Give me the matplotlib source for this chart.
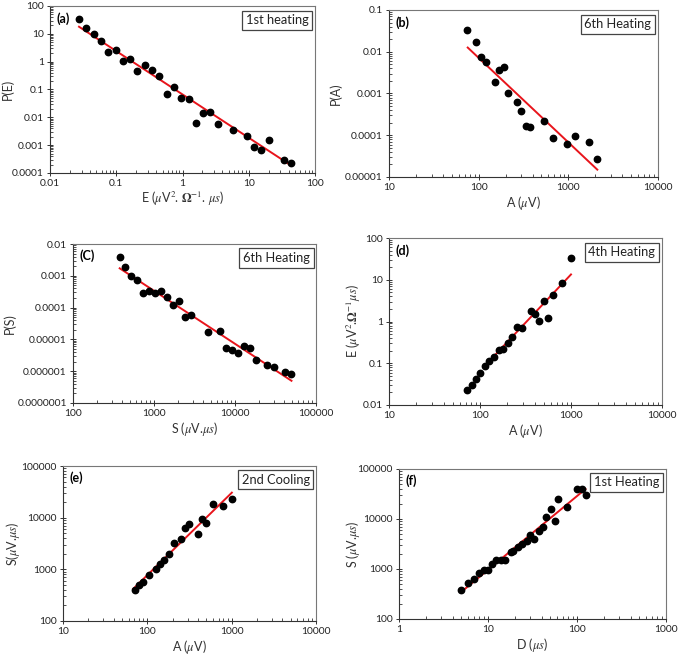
import matplotlib
matplotlib.use("Agg")
import matplotlib.pyplot as plt
from matplotlib.ticker import LogLocator, FuncFormatter, NullFormatter

plt.rcParams['font.family'] = ['Lato', 'DejaVu Sans']
plt.rcParams['mathtext.fontset'] = 'stix'

# ---------------- data ----------------
# (a) P(E) vs E, 1st heating
a_x = [0.0274, 0.035, 0.046, 0.058, 0.076, 0.098, 0.125, 0.16, 0.208, 0.268, 0.347,
       0.447, 0.577, 0.736, 0.955, 1.24, 1.62, 2.06, 2.63, 3.43, 5.7, 9.4, 12.1,
       15.5, 20.2, 33.6, 43.5]
a_y = [34, 16.6, 9.8, 5.6, 2.2, 2.7, 1.02, 1.23, 0.47, 0.79, 0.5, 0.31, 0.068, 0.12,
       0.05, 0.047, 0.0063, 0.0148, 0.0158, 0.0058, 0.0036, 0.0021, 0.00083,
       0.00065, 0.0015, 0.0003, 0.00023]
a_fit_x = [0.0274, 43.5]
a_fit_y = [18, 0.000187]

# (b) P(A) vs A, 6th heating
b_x = [74.8, 94, 107, 122, 151, 169, 190, 212, 268, 299, 337, 377, 536, 675, 958,
       1197, 1700, 2105]
b_y = [0.034, 0.0172, 0.0074, 0.0057, 0.0019, 0.0036, 0.0042, 0.00105, 0.00063,
       0.00038, 0.00017, 0.000154, 0.000214, 0.000085, 0.000063, 0.000096,
       0.000069, 0.000027]
b_fit_x = [75.5, 2105]
b_fit_y = [0.0126, 0.000015]

# (c) P(S) vs S, 6th heating
c_x = [377, 443, 526, 618, 740, 879, 1032, 1224, 1452, 1706, 2023, 2400, 2845, 4706,
       6500, 7785, 9230, 10960, 12880, 15280, 17950, 25150, 29900, 41700, 49500]
c_y = [0.0039, 0.00185, 0.00097, 0.00074, 0.00028, 0.00033, 0.00028, 0.00034,
       0.00021, 0.000122, 0.000167, 0.000051, 0.000058, 0.0000173, 0.000019,
       0.0000053, 0.0000045, 0.0000038, 0.0000063, 0.0000055, 0.0000023,
       0.0000016, 0.0000014, 0.00000096, 0.00000081]
c_fit_x = [377, 49800]
c_fit_y = [0.00172, 0.0000005]

# (d) E vs A, 4th heating
d_x = [71.7, 81.5, 90.8, 101, 114, 127, 142, 160, 180, 201, 227, 255, 287, 361, 403,
       450, 506, 565, 641, 805, 1000]
d_y = [0.0233, 0.0308, 0.042, 0.0586, 0.086, 0.112, 0.145, 0.205, 0.22, 0.313, 0.43,
       0.73, 0.69, 1.77, 1.5, 1.02, 3.02, 1.18, 4.2, 8.5, 33.7]
d_fit_x = [111, 1000]
d_fit_y = [0.083, 13.4]

# (e) S vs A, 2nd cooling
e_x = [71, 79.8, 89.9, 106, 126, 143, 158, 180, 208, 254, 283, 316, 401, 443, 503,
       604, 795, 1005]
e_y = [398, 490, 569, 777, 1014, 1250, 1515, 2010, 3187, 3866, 6400, 7540, 4753,
       9290, 8000, 18400, 16600, 23300]
e_fit_x = [67.8, 1005]
e_fit_y = [416, 30500]

# (f) S vs D, 1st heating
f_x = [4.98, 5.92, 6.98, 7.94, 9.04, 10.1, 11.2, 12.3, 13.9, 15.7, 18.0, 19.3, 21.6,
       24, 27.5, 29.8, 32.7, 37.2, 41.7, 45.4, 50.8, 56.4, 61.5, 77.6, 98.9, 112.5,
       124.7]
f_y = [373, 514, 618, 815, 964, 964, 1270, 1504, 1504, 1527, 2140, 2310, 2775, 3136,
       3600, 4745, 4070, 5800, 7070, 10850, 15660, 9160, 25600, 17700, 39300, 39300,
       29800]
f_fit_x = [4.98, 124.7]
f_fit_y = [345, 39800]

W, H = 679, 656


def plain(v, pos):
    if v >= 1:
        return f"{int(round(v))}"
    digits = len(f"{v:.10f}".rstrip('0').split('.')[1])
    return f"{v:.{digits}f}"


def panel(box, ylab_px, x, y, fx, fy, xlim, ylim, xlabel, ylabel, tag, note):
    left, right, top, bottom = box
    ax = fig.add_axes([left / W, 1 - bottom / H, (right - left) / W, (bottom - top) / H])
    ax.set_xscale('log')
    ax.set_yscale('log')
    ax.plot(fx, fy, color='#e8141b', lw=1.4, zorder=2)
    ax.plot(x, y, 'o', color='black', ms=4.6, zorder=3)
    ax.set_xlim(*xlim)
    ax.set_ylim(*ylim)
    for a in (ax.xaxis, ax.yaxis):
        a.set_major_locator(LogLocator(base=10, numticks=20))
        a.set_minor_locator(LogLocator(base=10, subs=range(2, 10), numticks=20))
        a.set_major_formatter(FuncFormatter(plain))
        a.set_minor_formatter(NullFormatter())
    ax.tick_params(which='major', direction='inout', length=4, width=0.7,
                   labelsize=7.4, color='#333333', labelcolor='#222222', pad=2.5)
    ax.tick_params(which='minor', direction='in', length=2, width=0.6, color='#333333')
    for s in ('left', 'bottom'):
        ax.spines[s].set_color('#333333')
        ax.spines[s].set_linewidth(0.8)
    for s in ('top', 'right'):
        ax.spines[s].set_color('#777777')
        ax.spines[s].set_linewidth(0.8)
    ax.set_xlabel(xlabel, fontsize=9, color='#333333', labelpad=1)
    ax.set_ylabel(ylabel, fontsize=9, color='#333333', va='center')
    ax.yaxis.set_label_coords((ylab_px - left) / (right - left), 0.5)
    ax.text(0.025, 0.965, tag, transform=ax.transAxes, ha='left', va='top',
            fontsize=9, fontweight='bold')
    ax.text(0.975, 0.95, note, transform=ax.transAxes, ha='right', va='top',
            fontsize=9.3, color='#222222',
            bbox=dict(boxstyle='square,pad=0.28', facecolor='white',
                      edgecolor='#444444', lw=0.9))
    return ax


fig = plt.figure(figsize=(W / 100, H / 100), dpi=100)

panel((50, 315, 6, 173), 8, a_x, a_y, a_fit_x, a_fit_y, (0.01, 100), (0.0001, 100),
      r'E ($\mu$V$^2$. $\mathbf{\Omega}^{-1}$. $\mu s$)', 'P(E)', '(a)', '1st heating')
panel((389, 658, 10, 177), 336, b_x, b_y, b_fit_x, b_fit_y, (10, 10000), (0.00001, 0.1),
      r'A ($\mu$V)', 'P(A)', '(b)', '6th Heating')
panel((73, 316, 244, 403), 10, c_x, c_y, c_fit_x, c_fit_y, (100, 100000), (1e-7, 0.01),
      r'S ($\mu$V.$\mu s$)', 'P(S)', '(C)', '6th Heating')
panel((389, 662, 238, 405), 354, d_x, d_y, d_fit_x, d_fit_y, (10, 10000), (0.01, 100),
      r'A ($\mu$V)', r'E ($\mu$V$^2$.$\mathbf{\Omega}^{-1}$$\mu s$)', '(d)', '4th Heating')
panel((63, 316, 466, 621), 13, e_x, e_y, e_fit_x, e_fit_y, (10, 10000), (100, 100000),
      r'A ($\mu$V)', r'S($\mu$V.$\mu s$)', '(e)', '2nd Cooling')
panel((399, 666, 469, 619), 353, f_x, f_y, f_fit_x, f_fit_y, (1, 1000), (100, 100000),
      r'D ($\mu s$)', r'S ($\mu$V.$\mu s$)', '(f)', '1st Heating')

fig.savefig('out.png', dpi=100)
